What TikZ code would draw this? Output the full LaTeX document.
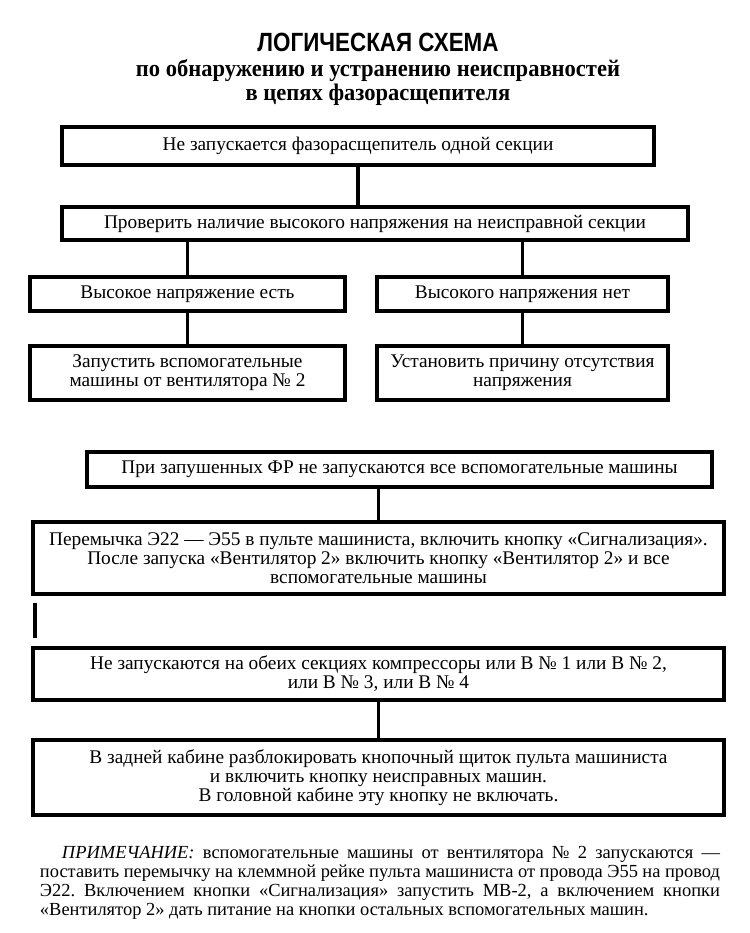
\documentclass[tikz,border=0pt]{standalone}
\usepackage{fontspec}
\setmainfont{Liberation Serif}
\newfontfamily\titlefont[FakeStretch=0.85]{Liberation Sans}
\newfontfamily\headfont[FakeStretch=0.95]{Liberation Serif}
\usetikzlibrary{positioning}
\frenchspacing

\begin{document}
\begin{tikzpicture}[x=0.2mm, y=-0.2mm,
      box/.style={draw, line width=1.8pt, align=center, inner sep=2pt,
                  font=\fontsize{11}{10.8}\selectfont},
      link/.style={line width=1.8pt}]
    \useasboundingbox (0,0) rectangle (750,933);
    % title
    \node[align=center, inner sep=0pt, font=\bfseries\fontsize{13.5}{12}\selectfont] (title) at (378,69)
      {{\titlefont\fontsize{15}{12}\selectfont ЛОГИЧЕСКАЯ СХЕМА}\\[2.5pt]
       \headfont по обнаружению и устранению неисправностей\\
       \headfont в цепях фазорасщепителя};
    % upper part
    \node[box, minimum width=118.4mm, minimum height=7.6mm] (b1) at (358,146) {Не запускается фазорасщепитель одной секции};
    \node[box, minimum width=125.2mm, minimum height=6.6mm] (b2) at (375,223.5) {Проверить наличие высокого напряжения на неисправной секции};
    \node[box, minimum width=63mm, minimum height=6.8mm] (b3) at (187.5,294) {Высокое напряжение есть};
    \node[box, minimum width=58.2mm, minimum height=6.8mm] (b4) at (522.5,294) {Высокого напряжения нет};
    \node[box, minimum width=63mm, minimum height=10.8mm] (b5) at (187.5,373) {Запустить вспомогательные\\машины от вентилятора № 2};
    \node[box, minimum width=58.2mm, minimum height=10.8mm] (b6) at (522.5,373) {Установить причину отсутствия\\напряжения};
    \draw[link] (b1.south) -- (b1.south |- b2.north);
    \draw[link] (b3.north |- b2.south) -- (b3.north);
    \draw[link] (b4.north |- b2.south) -- (b4.north);
    \draw[link] (b3) -- (b5);
    \draw[link] (b4) -- (b6);
    % lower part
    \node[box, minimum width=125mm, minimum height=7mm] (b7) at (399.5,469.5) {При запушенных ФР не запускаются все вспомогательные машины};
    \node[box, minimum width=138.2mm, minimum height=14.4mm] (b8) at (378.5,558) {Перемычка Э22 — Э55 в пульте машиниста, включить кнопку «Сигнализация».\\После запуска «Вентилятор 2» включить кнопку «Вентилятор 2» и все\\вспомогательные машины};
    \node[box, minimum width=138.2mm, minimum height=10.4mm] (b9) at (378.5,674) {Не запускаются на обеих секциях компрессоры или В № 1 или В № 2,\\или В № 3, или В № 4};
    \node[box, minimum width=138.2mm, minimum height=15mm] (b10) at (378.5,777.5) {В задней кабине разблокировать кнопочный щиток пульта машиниста\\и включить кнопку неисправных машин.\\В головной кабине эту кнопку не включать.};
    \coordinate (s1) at (35,603);
    \coordinate (s2) at (35,638);
    \draw[link] (b8.north |- b7.south) -- (b8.north);
    \draw[link] (s1) -- (s2);
    \draw[link] (b9) -- (b10);
    % note
    \node[text width=136mm, align=justify, font=\fontsize{10.5}{10.8}\selectfont] (note) at (380,883)
      {\hspace*{4.4mm}\textit{ПРИМЕЧАНИЕ:} вспомогательные машины от вентилятора № 2 запускаются —\linebreak
       поставить перемычку на клеммной рейке пульта машиниста от провода Э55 на провод\linebreak
       Э22. Включением кнопки «Сигнализация» запустить МВ-2, а включением кнопки\linebreak
       «Вентилятор 2» дать питание на кнопки остальных вспомогательных машин.};
\end{tikzpicture}
\end{document}
